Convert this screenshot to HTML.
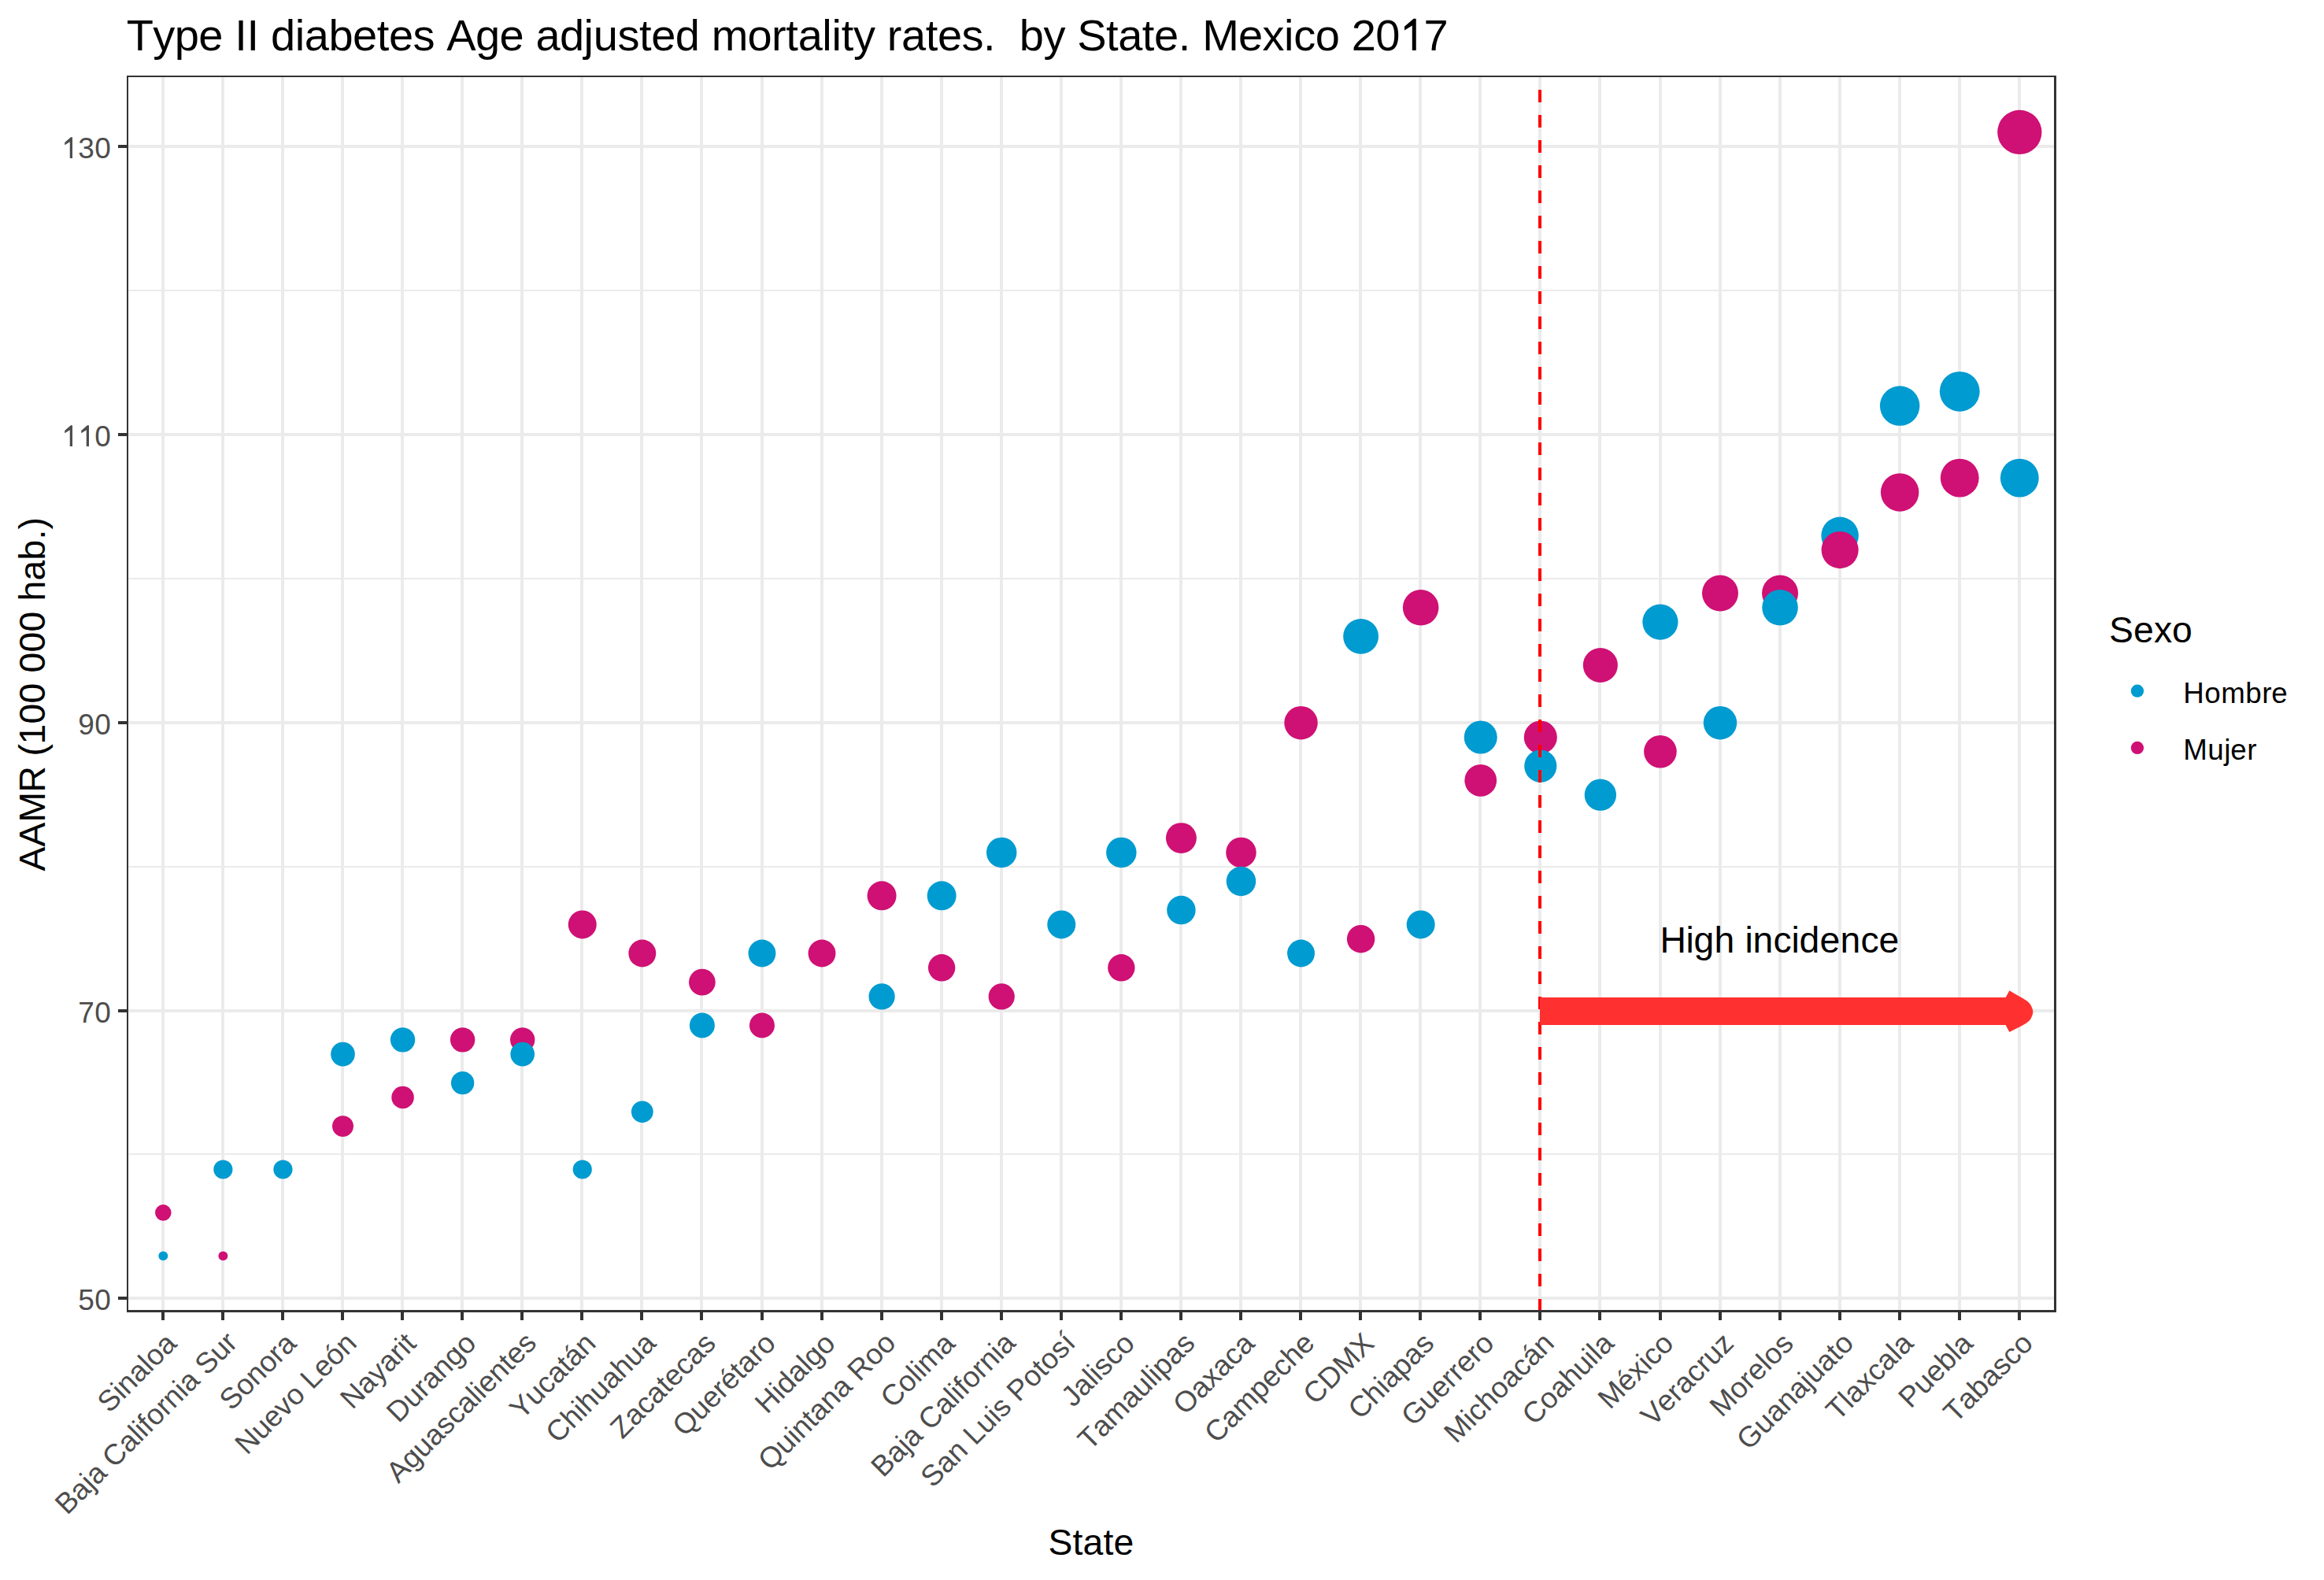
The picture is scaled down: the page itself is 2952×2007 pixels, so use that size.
<!DOCTYPE html><html><head><meta charset="utf-8"><title>Type II diabetes mortality by State, Mexico 2017</title><style>html,body{margin:0;padding:0;background:#fff;overflow:hidden;}svg{display:block;}text{font-family:"Liberation Sans", sans-serif;font-kerning:none;font-feature-settings:"kern" 0,"liga" 0;white-space:pre;}</style></head><body>
<svg width="2952" height="2007" viewBox="0 0 2952 2007">
<rect x="0" y="0" width="2952" height="2007" fill="#fff"/>
<defs><clipPath id="pc"><rect x="161" y="96" width="2451" height="1571"/></clipPath></defs>
<g clip-path="url(#pc)">
<rect x="161" y="368" width="2451" height="2" fill="#EBEBEB"/>
<rect x="161" y="734" width="2451" height="2" fill="#EBEBEB"/>
<rect x="161" y="1100" width="2451" height="2" fill="#EBEBEB"/>
<rect x="161" y="1465" width="2451" height="2" fill="#EBEBEB"/>
<rect x="161" y="184" width="2451" height="4" fill="#EBEBEB"/>
<rect x="161" y="550" width="2451" height="4" fill="#EBEBEB"/>
<rect x="161" y="916" width="2451" height="4" fill="#EBEBEB"/>
<rect x="161" y="1282" width="2451" height="4" fill="#EBEBEB"/>
<rect x="161" y="1647" width="2451" height="4" fill="#EBEBEB"/>
<rect x="205" y="96" width="4" height="1571" fill="#EBEBEB"/>
<rect x="281" y="96" width="4" height="1571" fill="#EBEBEB"/>
<rect x="357" y="96" width="4" height="1571" fill="#EBEBEB"/>
<rect x="433" y="96" width="4" height="1571" fill="#EBEBEB"/>
<rect x="509" y="96" width="4" height="1571" fill="#EBEBEB"/>
<rect x="585" y="96" width="4" height="1571" fill="#EBEBEB"/>
<rect x="661" y="96" width="4" height="1571" fill="#EBEBEB"/>
<rect x="737" y="96" width="4" height="1571" fill="#EBEBEB"/>
<rect x="813" y="96" width="4" height="1571" fill="#EBEBEB"/>
<rect x="889" y="96" width="4" height="1571" fill="#EBEBEB"/>
<rect x="966" y="96" width="4" height="1571" fill="#EBEBEB"/>
<rect x="1042" y="96" width="4" height="1571" fill="#EBEBEB"/>
<rect x="1118" y="96" width="4" height="1571" fill="#EBEBEB"/>
<rect x="1194" y="96" width="4" height="1571" fill="#EBEBEB"/>
<rect x="1270" y="96" width="4" height="1571" fill="#EBEBEB"/>
<rect x="1346" y="96" width="4" height="1571" fill="#EBEBEB"/>
<rect x="1422" y="96" width="4" height="1571" fill="#EBEBEB"/>
<rect x="1498" y="96" width="4" height="1571" fill="#EBEBEB"/>
<rect x="1574" y="96" width="4" height="1571" fill="#EBEBEB"/>
<rect x="1650" y="96" width="4" height="1571" fill="#EBEBEB"/>
<rect x="1726" y="96" width="4" height="1571" fill="#EBEBEB"/>
<rect x="1802" y="96" width="4" height="1571" fill="#EBEBEB"/>
<rect x="1878" y="96" width="4" height="1571" fill="#EBEBEB"/>
<rect x="1954" y="96" width="4" height="1571" fill="#EBEBEB"/>
<rect x="2030" y="96" width="4" height="1571" fill="#EBEBEB"/>
<rect x="2107" y="96" width="4" height="1571" fill="#EBEBEB"/>
<rect x="2183" y="96" width="4" height="1571" fill="#EBEBEB"/>
<rect x="2259" y="96" width="4" height="1571" fill="#EBEBEB"/>
<rect x="2335" y="96" width="4" height="1571" fill="#EBEBEB"/>
<rect x="2411" y="96" width="4" height="1571" fill="#EBEBEB"/>
<rect x="2487" y="96" width="4" height="1571" fill="#EBEBEB"/>
<rect x="2563" y="96" width="4" height="1571" fill="#EBEBEB"/>
<circle cx="2565.32" cy="167.90" r="28.15" fill="#CF1074"/>
<circle cx="2489.25" cy="497.30" r="25.42" fill="#009BD0"/>
<circle cx="2413.18" cy="515.60" r="25.25" fill="#009BD0"/>
<circle cx="2489.25" cy="607.10" r="24.42" fill="#CF1074"/>
<circle cx="2565.32" cy="607.10" r="24.42" fill="#009BD0"/>
<circle cx="2413.18" cy="625.40" r="24.24" fill="#CF1074"/>
<circle cx="2337.12" cy="680.30" r="23.72" fill="#009BD0"/>
<circle cx="2337.12" cy="698.60" r="23.54" fill="#CF1074"/>
<circle cx="2184.99" cy="753.50" r="22.99" fill="#CF1074"/>
<circle cx="2261.06" cy="753.50" r="22.99" fill="#CF1074"/>
<circle cx="1804.67" cy="771.80" r="22.80" fill="#CF1074"/>
<circle cx="2261.06" cy="771.80" r="22.80" fill="#009BD0"/>
<circle cx="2108.93" cy="790.10" r="22.62" fill="#009BD0"/>
<circle cx="1728.60" cy="808.40" r="22.42" fill="#009BD0"/>
<circle cx="2032.86" cy="845.00" r="22.04" fill="#CF1074"/>
<circle cx="1652.54" cy="918.20" r="21.23" fill="#CF1074"/>
<circle cx="2184.99" cy="918.20" r="21.23" fill="#009BD0"/>
<circle cx="1880.73" cy="936.50" r="21.02" fill="#009BD0"/>
<circle cx="1956.80" cy="936.50" r="21.02" fill="#CF1074"/>
<circle cx="2108.93" cy="954.80" r="20.81" fill="#CF1074"/>
<circle cx="1956.80" cy="973.10" r="20.60" fill="#009BD0"/>
<circle cx="1880.73" cy="991.40" r="20.38" fill="#CF1074"/>
<circle cx="2032.86" cy="1009.70" r="20.16" fill="#009BD0"/>
<circle cx="1500.41" cy="1064.60" r="19.47" fill="#CF1074"/>
<circle cx="1272.21" cy="1082.90" r="19.24" fill="#009BD0"/>
<circle cx="1424.34" cy="1082.90" r="19.24" fill="#009BD0"/>
<circle cx="1576.47" cy="1082.90" r="19.24" fill="#CF1074"/>
<circle cx="1576.47" cy="1119.50" r="18.75" fill="#009BD0"/>
<circle cx="1120.08" cy="1137.80" r="18.51" fill="#CF1074"/>
<circle cx="1196.15" cy="1137.80" r="18.51" fill="#009BD0"/>
<circle cx="1500.41" cy="1156.10" r="18.25" fill="#009BD0"/>
<circle cx="739.75" cy="1174.40" r="17.99" fill="#CF1074"/>
<circle cx="1804.67" cy="1174.40" r="17.99" fill="#009BD0"/>
<circle cx="1348.28" cy="1174.40" r="17.99" fill="#009BD0"/>
<circle cx="1728.60" cy="1192.70" r="17.73" fill="#CF1074"/>
<circle cx="815.82" cy="1211.00" r="17.45" fill="#CF1074"/>
<circle cx="967.95" cy="1211.00" r="17.45" fill="#009BD0"/>
<circle cx="1652.54" cy="1211.00" r="17.45" fill="#009BD0"/>
<circle cx="1044.02" cy="1211.00" r="17.45" fill="#CF1074"/>
<circle cx="1196.15" cy="1229.30" r="17.18" fill="#CF1074"/>
<circle cx="1424.34" cy="1229.30" r="17.18" fill="#CF1074"/>
<circle cx="891.88" cy="1247.60" r="16.89" fill="#CF1074"/>
<circle cx="1120.08" cy="1265.90" r="16.60" fill="#009BD0"/>
<circle cx="1272.21" cy="1265.90" r="16.60" fill="#CF1074"/>
<circle cx="891.88" cy="1302.50" r="15.99" fill="#009BD0"/>
<circle cx="967.95" cy="1302.50" r="15.99" fill="#CF1074"/>
<circle cx="511.56" cy="1320.80" r="15.67" fill="#009BD0"/>
<circle cx="587.62" cy="1320.80" r="15.67" fill="#CF1074"/>
<circle cx="663.69" cy="1320.80" r="15.67" fill="#CF1074"/>
<circle cx="435.50" cy="1339.10" r="15.34" fill="#009BD0"/>
<circle cx="663.69" cy="1339.10" r="15.34" fill="#009BD0"/>
<circle cx="587.62" cy="1375.70" r="14.64" fill="#009BD0"/>
<circle cx="511.56" cy="1394.00" r="14.27" fill="#CF1074"/>
<circle cx="815.82" cy="1412.30" r="13.88" fill="#009BD0"/>
<circle cx="435.50" cy="1430.60" r="13.47" fill="#CF1074"/>
<circle cx="283.37" cy="1485.50" r="12.09" fill="#009BD0"/>
<circle cx="739.75" cy="1485.50" r="12.09" fill="#009BD0"/>
<circle cx="359.43" cy="1485.50" r="12.09" fill="#009BD0"/>
<circle cx="207.30" cy="1540.40" r="10.28" fill="#CF1074"/>
<circle cx="207.30" cy="1595.30" r="5.92" fill="#009BD0"/>
<circle cx="283.37" cy="1595.30" r="5.92" fill="#CF1074"/>
<line x1="1956.0" y1="1666" x2="1956.0" y2="96" stroke="#FF0000" stroke-width="4" stroke-dasharray="16 16"/>
<rect x="1956.0" y="1267" width="594.0" height="35" fill="#FF3030"/>
<path d="M2547.5 1267.3 L2552.4 1258.2 Q2560.1 1262.9 2565.30 1265.75 Q2570.5 1268.6 2573.65 1270.75 Q2576.8 1272.9 2578.55 1275.35 Q2580.3 1277.8 2581.55 1281.20 Q2582.8 1284.6 2581.95 1288.10 Q2581.1 1291.6 2579.30 1294.40 Q2577.5 1297.2 2574.00 1299.60 Q2570.5 1302.0 2565.30 1304.45 Q2560.1 1306.9 2556.25 1309.00 L2552.4 1311.1 L2547.5 1301.7 Z" fill="#FF3030"/>
</g>
<rect x="161" y="96" width="2" height="1571" fill="#333333"/>
<rect x="2609" y="96" width="3" height="1571" fill="#333333"/>
<rect x="161" y="96" width="2451" height="2" fill="#333333"/>
<rect x="161" y="1664" width="2451" height="3" fill="#333333"/>
<text x="2108.53 2141.53 2151.53 2177.53 2203.53 2216.53 2226.53 2252.53 2275.53 2285.53 2311.53 2337.53 2363.53 2386.53" y="1209.7" font-size="46.3" fill="#000">High incidence</text>
<rect x="150" y="184" width="11" height="4" fill="#333333"/>
<text x="99.20 120.20" y="200.9" font-size="37" fill="#4D4D4D">30</text>
<path d="M763 0L583 0L583 1147L223 928L223 1102L647 1472L763 1472Z" fill="#4D4D4D" transform="translate(78.20 200.90) scale(0.018066 -0.018066)"/>
<rect x="150" y="550" width="11" height="4" fill="#333333"/>
<text x="120.20" y="566.9" font-size="37" fill="#4D4D4D">0</text>
<path d="M763 0L583 0L583 1147L223 928L223 1102L647 1472L763 1472Z" fill="#4D4D4D" transform="translate(78.20 566.90) scale(0.018066 -0.018066)"/>
<path d="M763 0L583 0L583 1147L223 928L223 1102L647 1472L763 1472Z" fill="#4D4D4D" transform="translate(99.20 566.90) scale(0.018066 -0.018066)"/>
<rect x="150" y="916" width="11" height="4" fill="#333333"/>
<text x="99.20 120.20" y="932.9" font-size="37" fill="#4D4D4D">90</text>
<rect x="150" y="1282" width="11" height="4" fill="#333333"/>
<text x="99.20 120.20" y="1298.9" font-size="37" fill="#4D4D4D">70</text>
<rect x="150" y="1647" width="11" height="4" fill="#333333"/>
<text x="99.20 120.20" y="1663.9" font-size="37" fill="#4D4D4D">50</text>
<rect x="205" y="1667" width="4" height="10" fill="#333333"/>
<text x="139.00" y="1795.90" font-size="37" fill="#4D4D4D" transform="rotate(-45 139.00 1795.90)">Sinaloa</text>
<rect x="281" y="1667" width="4" height="10" fill="#333333"/>
<text x="85.38" y="1925.59" font-size="37" fill="#4D4D4D" transform="rotate(-45 85.38 1925.59)">Baja California Sur</text>
<rect x="357" y="1667" width="4" height="10" fill="#333333"/>
<text x="294.02" y="1793.01" font-size="37" fill="#4D4D4D" transform="rotate(-45 294.02 1793.01)">Sonora</text>
<rect x="433" y="1667" width="4" height="10" fill="#333333"/>
<text x="313.85" y="1849.24" font-size="37" fill="#4D4D4D" transform="rotate(-45 313.85 1849.24)">Nuevo León</text>
<rect x="509" y="1667" width="4" height="10" fill="#333333"/>
<text x="447.63" y="1791.53" font-size="37" fill="#4D4D4D" transform="rotate(-45 447.63 1791.53)">Nayarit</text>
<rect x="585" y="1667" width="4" height="10" fill="#333333"/>
<text x="506.36" y="1808.86" font-size="37" fill="#4D4D4D" transform="rotate(-45 506.36 1808.86)">Durango</text>
<rect x="661" y="1667" width="4" height="10" fill="#333333"/>
<text x="506.03" y="1885.26" font-size="37" fill="#4D4D4D" transform="rotate(-45 506.03 1885.26)">Aguascalientes</text>
<rect x="737" y="1667" width="4" height="10" fill="#333333"/>
<text x="662.81" y="1804.55" font-size="37" fill="#4D4D4D" transform="rotate(-45 662.81 1804.55)">Yucatán</text>
<rect x="813" y="1667" width="4" height="10" fill="#333333"/>
<text x="708.59" y="1834.83" font-size="37" fill="#4D4D4D" transform="rotate(-45 708.59 1834.83)">Chihuahua</text>
<rect x="889" y="1667" width="4" height="10" fill="#333333"/>
<text x="790.46" y="1829.02" font-size="37" fill="#4D4D4D" transform="rotate(-45 790.46 1829.02)">Zacatecas</text>
<rect x="966" y="1667" width="4" height="10" fill="#333333"/>
<text x="869.40" y="1826.15" font-size="37" fill="#4D4D4D" transform="rotate(-45 869.40 1826.15)">Querétaro</text>
<rect x="1042" y="1667" width="4" height="10" fill="#333333"/>
<text x="974.28" y="1797.33" font-size="37" fill="#4D4D4D" transform="rotate(-45 974.28 1797.33)">Hidalgo</text>
<rect x="1118" y="1667" width="4" height="10" fill="#333333"/>
<text x="978.27" y="1869.41" font-size="37" fill="#4D4D4D" transform="rotate(-45 978.27 1869.41)">Quintana Roo</text>
<rect x="1194" y="1667" width="4" height="10" fill="#333333"/>
<text x="1133.66" y="1790.09" font-size="37" fill="#4D4D4D" transform="rotate(-45 1133.66 1790.09)">Colima</text>
<rect x="1270" y="1667" width="4" height="10" fill="#333333"/>
<text x="1121.78" y="1878.03" font-size="37" fill="#4D4D4D" transform="rotate(-45 1121.78 1878.03)">Baja California</text>
<rect x="1346" y="1667" width="4" height="10" fill="#333333"/>
<text x="1184.85" y="1891.02" font-size="37" fill="#4D4D4D" transform="rotate(-45 1184.85 1891.02)">San Luis Potosí</text>
<rect x="1422" y="1667" width="4" height="10" fill="#333333"/>
<text x="1363.28" y="1788.66" font-size="37" fill="#4D4D4D" transform="rotate(-45 1363.28 1788.66)">Jalisco</text>
<rect x="1498" y="1667" width="4" height="10" fill="#333333"/>
<text x="1384.58" y="1843.43" font-size="37" fill="#4D4D4D" transform="rotate(-45 1384.58 1843.43)">Tamaulipas</text>
<rect x="1574" y="1667" width="4" height="10" fill="#333333"/>
<text x="1505.31" y="1798.76" font-size="37" fill="#4D4D4D" transform="rotate(-45 1505.31 1798.76)">Oaxaca</text>
<rect x="1650" y="1667" width="4" height="10" fill="#333333"/>
<text x="1545.34" y="1834.79" font-size="37" fill="#4D4D4D" transform="rotate(-45 1545.34 1834.79)">Campeche</text>
<rect x="1726" y="1667" width="4" height="10" fill="#333333"/>
<text x="1670.45" y="1785.75" font-size="37" fill="#4D4D4D" transform="rotate(-45 1670.45 1785.75)">CDMX</text>
<rect x="1802" y="1667" width="4" height="10" fill="#333333"/>
<text x="1727.73" y="1804.53" font-size="37" fill="#4D4D4D" transform="rotate(-45 1727.73 1804.53)">Chiapas</text>
<rect x="1878" y="1667" width="4" height="10" fill="#333333"/>
<text x="1795.17" y="1813.16" font-size="37" fill="#4D4D4D" transform="rotate(-45 1795.17 1813.16)">Guerrero</text>
<rect x="1954" y="1667" width="4" height="10" fill="#333333"/>
<text x="1849.60" y="1834.79" font-size="37" fill="#4D4D4D" transform="rotate(-45 1849.60 1834.79)">Michoacán</text>
<rect x="2030" y="1667" width="4" height="10" fill="#333333"/>
<text x="1948.71" y="1811.75" font-size="37" fill="#4D4D4D" transform="rotate(-45 1948.71 1811.75)">Coahuila</text>
<rect x="2107" y="1667" width="4" height="10" fill="#333333"/>
<text x="2044.99" y="1791.53" font-size="37" fill="#4D4D4D" transform="rotate(-45 2044.99 1791.53)">México</text>
<rect x="2183" y="1667" width="4" height="10" fill="#333333"/>
<text x="2099.43" y="1813.16" font-size="37" fill="#4D4D4D" transform="rotate(-45 2099.43 1813.16)">Veracruz</text>
<rect x="2259" y="1667" width="4" height="10" fill="#333333"/>
<text x="2187.03" y="1801.62" font-size="37" fill="#4D4D4D" transform="rotate(-45 2187.03 1801.62)">Morelos</text>
<rect x="2335" y="1667" width="4" height="10" fill="#333333"/>
<text x="2221.24" y="1843.48" font-size="37" fill="#4D4D4D" transform="rotate(-45 2221.24 1843.48)">Guanajuato</text>
<rect x="2411" y="1667" width="4" height="10" fill="#333333"/>
<text x="2334.83" y="1805.95" font-size="37" fill="#4D4D4D" transform="rotate(-45 2334.83 1805.95)">Tlaxcala</text>
<rect x="2487" y="1667" width="4" height="10" fill="#333333"/>
<text x="2426.71" y="1790.14" font-size="37" fill="#4D4D4D" transform="rotate(-45 2426.71 1790.14)">Puebla</text>
<rect x="2563" y="1667" width="4" height="10" fill="#333333"/>
<text x="2484.06" y="1808.85" font-size="37" fill="#4D4D4D" transform="rotate(-45 2484.06 1808.85)">Tabasco</text>
<text x="1331.51 1362.51 1375.51 1401.51 1414.51" y="1974.6" font-size="46.3" fill="#000">State</text>
<g transform="translate(57.0 1106.6) rotate(-90)"><text x="0.00 31.00 62.00 100.00 133.00 146.00 161.00 187.00 213.00 239.00 252.00 278.00 304.00 330.00 343.00 369.00 395.00 421.00 434.00" y="0" font-size="46.3" fill="#000">AAMR (100 000 hab.)</text></g>
<text x="160.66 194.26 221.76 252.35 282.94 298.22 313.50 328.78 344.06 374.65 386.87 417.46 448.05 478.63 493.91 524.50 552.00 567.28 603.97 634.56 665.14 680.43 711.01 741.60 753.82 784.41 811.91 827.19 857.78 888.37 903.65 949.46 980.05 998.37 1013.65 1044.24 1056.46 1068.67 1083.96 1111.46 1126.74 1145.05 1175.64 1190.92 1221.51 1249.01 1264.29 1279.57 1294.85 1325.44 1352.94 1368.22 1404.91 1420.19 1450.77 1466.06 1496.64 1511.92 1527.21 1573.02 1603.61 1631.11 1643.33 1670.83 1701.42 1716.70 1747.29 1777.87 1808.46" y="63.9" font-size="56" fill="#000">Type II diabetes Age adjusted mortality rates.  by State. Mexico 20 7</text>
<path d="M763 0L583 0L583 1147L223 928L223 1102L647 1472L763 1472Z" fill="#000" transform="translate(1777.87 63.90) scale(0.027344 -0.027344)"/>
<text x="2678.91 2709.91 2735.91 2758.91" y="816.2" font-size="46.3" fill="#000">Sexo</text>
<circle cx="2714.9" cy="877.7" r="8.15" fill="#009BD0"/>
<circle cx="2714.9" cy="949.9" r="8.15" fill="#CF1074"/>
<text x="2773.36 2800.36 2821.36 2852.36 2873.36 2885.36" y="892.9" font-size="36.67" fill="#000">Hombre</text>
<text x="2773.36 2804.36 2825.36 2833.36 2854.36" y="964.5" font-size="36.67" fill="#000">Mujer</text>
</svg></body></html>
